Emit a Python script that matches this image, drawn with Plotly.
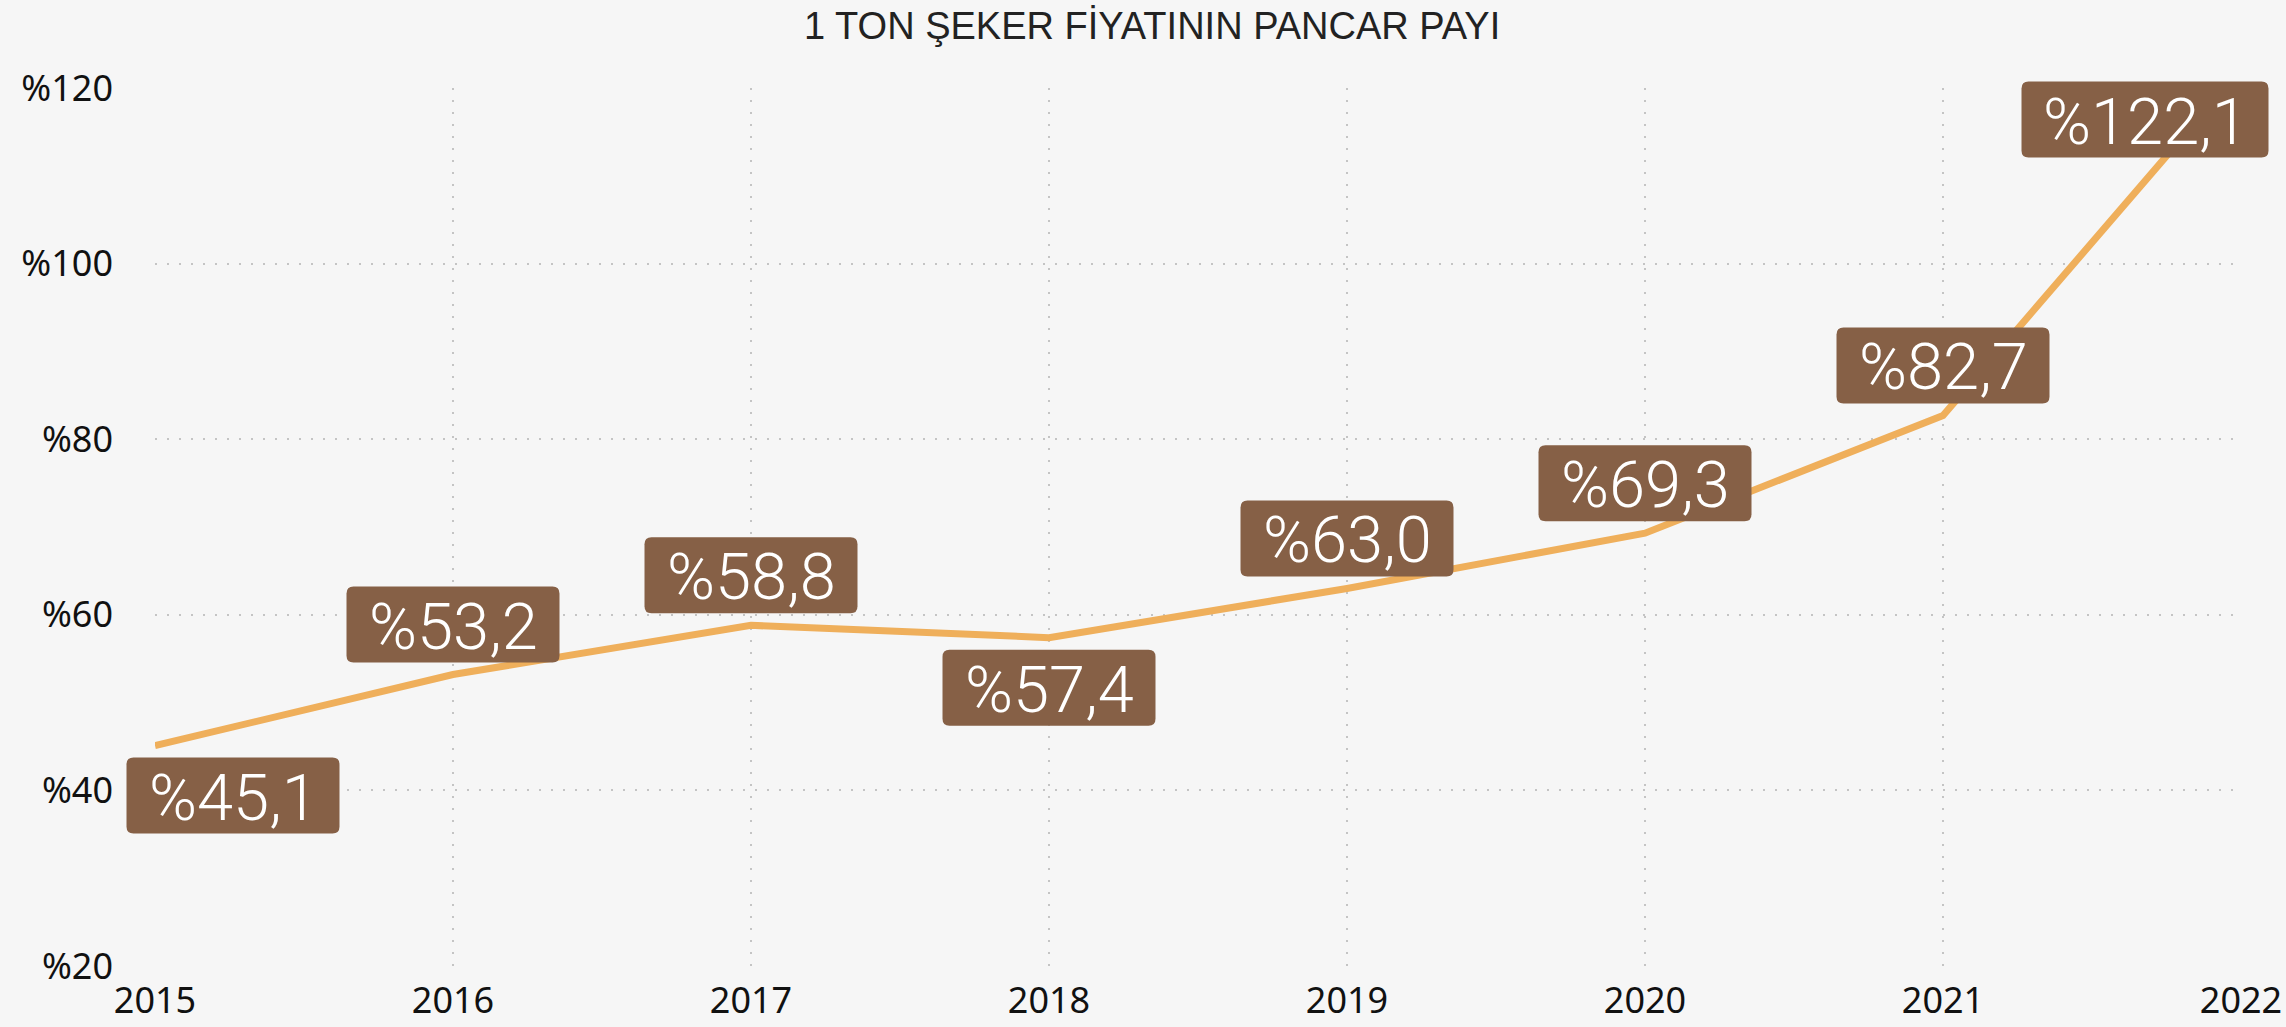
import plotly.graph_objects as go

years = [2015, 2016, 2017, 2018, 2019, 2020, 2021, 2022]
values = [45.1, 53.2, 58.8, 57.4, 63.0, 69.3, 82.7, 122.1]
y_ticks = [20, 40, 60, 80, 100, 120]
title_text = "1 TON ŞEKER FİYATININ PANCAR PAYI"

# label placement (style)
label_side = ["below", "above", "above", "below", "above", "above", "above", "below"]
label_xshift = [78, 0, 0, 0, 0, 0, 0, -96]

LINE = "#EFAF5B"
BOX = "#866046"
GRID = "#C4C4C4"

X_MIN, X_MAX = years[0], years[-1]
Y_MIN, Y_MAX = y_ticks[0], y_ticks[-1]


def rounded_box(cx, cy, w, h, r):
    x0, x1 = cx - w / 2, cx + w / 2
    y0, y1 = cy - h / 2, cy + h / 2
    return (f"M{x0 + r},{y0} L{x1 - r},{y0} Q{x1},{y0} {x1},{y0 + r} "
            f"L{x1},{y1 - r} Q{x1},{y1} {x1 - r},{y1} L{x0 + r},{y1} "
            f"Q{x0},{y1} {x0},{y1 - r} L{x0},{y0 + r} Q{x0},{y0} {x0 + r},{y0} Z")


fig = go.Figure()
fig.add_trace(go.Scatter(
    x=years, y=values, mode="lines",
    line=dict(color=LINE, width=7),
    hoverinfo="skip", showlegend=False,
))

for x, v, side, xs in zip(years, values, label_side, label_xshift):
    txt = "%" + f"{v:.1f}".replace(".", ",")
    px = (x - X_MIN) / (X_MAX - X_MIN)
    py = (v - Y_MIN) / (Y_MAX - Y_MIN)
    ys = 50 if side == "above" else -50
    w = 34 * len(txt) + 43
    fig.add_shape(
        type="path", xref="paper", yref="paper",
        xsizemode="pixel", ysizemode="pixel", xanchor=px, yanchor=py,
        path=rounded_box(xs, ys, w, 76, 7),
        fillcolor=BOX, line=dict(width=0), layer="above",
    )
    fig.add_annotation(
        x=px, y=py, xref="paper", yref="paper",
        xanchor="center", yanchor="middle",
        text=txt, showarrow=False,
        xshift=xs, yshift=ys - 2,
        font=dict(family="Roboto, Noto Sans, sans-serif", size=65, color="white", weight=300),
        align="center", valign="middle",
    )

fig.update_layout(
    width=2286, height=1027,
    paper_bgcolor="#F6F6F6", plot_bgcolor="rgba(0,0,0,0)",
    margin=dict(l=155, r=45, t=88, b=61, autoexpand=False),
    title=dict(text=title_text, x=0.504, xanchor="center", y=0.975, yanchor="middle",
               font=dict(family="Liberation Sans, Arial, sans-serif", size=38, color="#222222")),
    xaxis=dict(
        range=[X_MIN, X_MAX], tickvals=years, ticktext=[str(y) for y in years],
        showgrid=True, gridcolor=GRID, gridwidth=2, griddash="2px,10px",
        zeroline=False, showline=False, ticks="", ticklabelstandoff=10, automargin=False,
        tickfont=dict(family="Noto Sans, sans-serif", size=36, color="#111111"),
    ),
    yaxis=dict(
        range=[Y_MIN, Y_MAX], tickvals=y_ticks, ticktext=["%" + str(t) for t in y_ticks],
        showgrid=True, gridcolor=GRID, gridwidth=2, griddash="2px,10px",
        zeroline=False, showline=False, ticks="", ticklabelstandoff=41, automargin=False,
        tickfont=dict(family="Noto Sans, sans-serif", size=36, color="#111111"),
    ),
)

fig.write_html("out.html", config={"displayModeBar": False},
               post_script="document.body.style.margin='0';")
